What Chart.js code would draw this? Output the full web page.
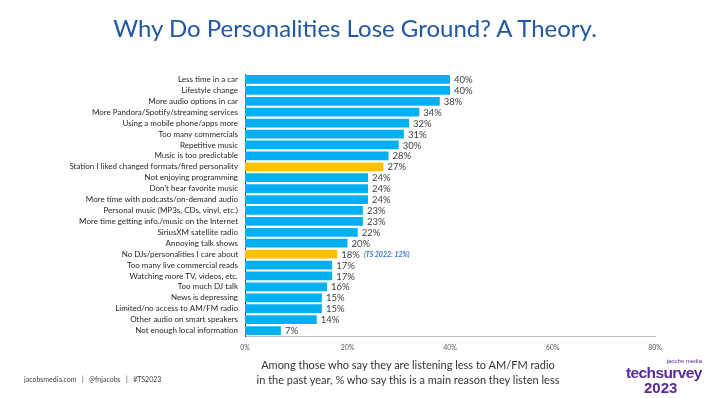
<!DOCTYPE html>
<html lang="en">
<head>
    <meta charset="UTF-8">
    <title>Why Do Personalities Lose Ground? A Theory.</title>
    <style>
        html, body { margin: 0; padding: 0; background: #ffffff; }
        .wrap { position: relative; width: 726px; height: 398px; overflow: hidden; font-family: Lato, "Open Sans", sans-serif; }
        #chart { position: absolute; left: 0; top: 0; }
        .title { position: absolute; left: 0; width: 710px; top: 13px; text-align: center; font-size: 24px; line-height: 30px; color: #2257a1; }
        .note { position: absolute; left: 230px; width: 356px; top: 357px; text-align: center; font-size: 11px; line-height: 15px; color: #333333; }
        .footer { position: absolute; left: 24px; top: 375px; font-size: 7px; color: #404040; white-space: pre; }
        .logo { position: absolute; left: 626px; top: 358px; width: 84px; color: #5b2a94; font-family: "Liberation Sans", Arial, sans-serif; font-weight: bold; }
        .logo .small { position: absolute; right: 8px; top: 0; font-size: 6px; font-weight: normal; }
        .logo .big { position: absolute; left: 0; top: 6px; font-size: 15.5px; letter-spacing: -0.6px; }
        .logo .year { position: absolute; left: 18px; top: 21px; font-size: 15px; }
    </style>
</head>
<body>
    <div class="wrap">
        <canvas id="chart" width="726" height="398"></canvas>
        <div class="title">Why Do Personalities Lose Ground? A Theory.</div>
        <div class="note">Among those who say they are listening less to AM/FM radio<br>in the past year, % who say this is a main reason they listen less</div>
        <div class="footer">jacobsmedia.com   |   @fnjacobs   |   #TS2023</div>
        <div class="logo"><span class="small">jacobs media</span><span class="big">techsurvey</span><span class="year">2023</span></div>
    </div>

    <script src="https://cdn.jsdelivr.net/npm/chart.js"></script>
    <script>
        // reasons, top to bottom
        var reasons = [
            'Less time in a car',
            'Lifestyle change',
            'More audio options in car',
            'More Pandora/Spotify/streaming services',
            'Using a mobile phone/apps more',
            'Too many commercials',
            'Repetitive music',
            'Music is too predictable',
            'Station I liked changed formats/fired personality',
            'Not enjoying programming',
            "Don't hear favorite music",
            'More time with podcasts/on-demand audio',
            'Personal music (MP3s, CDs, vinyl, etc.)',
            'More time getting info./music on the Internet',
            'SiriusXM satellite radio',
            'Annoying talk shows',
            'No DJs/personalities I care about',
            'Too many live commercial reads',
            'Watching more TV, videos, etc.',
            'Too much DJ talk',
            'News is depressing',
            'Limited/no access to AM/FM radio',
            'Other audio on smart speakers',
            'Not enough local information'
        ];
        var percents = [40, 40, 38, 34, 32, 31, 30, 28, 27, 24, 24, 24, 23, 23, 22, 20, 18, 17, 17, 16, 15, 15, 14, 7];
        // bars about personalities are highlighted
        var highlighted = ['Station I liked changed formats/fired personality', 'No DJs/personalities I care about'];
        var notes = { 'No DJs/personalities I care about': '(TS 2022: 12%)' };
        var xTicks = [0, 20, 40, 60, 80];

        var blue = '#00b0f0';
        var gold = '#ffc000';

        var barColors = reasons.map(function (r) {
            return highlighted.indexOf(r) >= 0 ? gold : blue;
        });

        // draws the value labels after each bar
        var valueLabels = {
            id: 'valueLabels',
            afterDatasetsDraw: function (chart) {
                var ctx = chart.ctx;
                var meta = chart.getDatasetMeta(0);
                ctx.save();
                ctx.textBaseline = 'middle';
                meta.data.forEach(function (bar, i) {
                    var text = percents[i] + '%';
                    ctx.font = '9.5px Lato, "Open Sans", sans-serif';
                    ctx.fillStyle = '#404040';
                    ctx.textAlign = 'left';
                    ctx.fillText(text, bar.x + 4, bar.y + 0.5);
                    var note = notes[reasons[i]];
                    if (note) {
                        var w = ctx.measureText(text).width;
                        ctx.font = 'italic bold 7px Lato, "Open Sans", sans-serif';
                        ctx.fillStyle = '#2e74d0';
                        ctx.fillText(note, bar.x + 4 + w + 4, bar.y + 0.5);
                    }
                });
                ctx.restore();
            }
        };

        new Chart(document.getElementById('chart'), {
            type: 'bar',
            data: {
                labels: reasons,
                datasets: [{
                    data: percents,
                    backgroundColor: barColors,
                    borderWidth: 0,
                    barPercentage: 0.8,
                    categoryPercentage: 1
                }]
            },
            options: {
                indexAxis: 'y',
                responsive: false,
                animation: false,
                layout: { padding: { left: 0, right: 71, top: 74, bottom: 42 } },
                plugins: {
                    legend: { display: false },
                    tooltip: { enabled: false },
                    title: { display: false }
                },
                scales: {
                    x: {
                        min: 0,
                        max: 80,
                        afterBuildTicks: function (scale) {
                            scale.ticks = xTicks.map(function (v) { return { value: v }; });
                        },
                        afterFit: function (scale) { scale.height = 20; },
                        grid: { display: false, drawTicks: false },
                        border: { color: '#bfbfbf', width: 1 },
                        ticks: {
                            padding: 8,
                            color: '#595959',
                            font: { family: 'Lato, "Open Sans", sans-serif', size: 7 },
                            callback: function (v) { return v + '%'; }
                        }
                    },
                    y: {
                        afterFit: function (scale) { scale.width = 245; },
                        grid: { display: false, drawTicks: false },
                        border: { color: '#404040', width: 1 },
                        ticks: {
                            padding: 7,
                            autoSkip: false,
                            color: '#262626',
                            font: { family: 'Lato, "Open Sans", sans-serif', size: 8 }
                        }
                    }
                }
            },
            plugins: [valueLabels]
        });
    </script>
</body>
</html>
